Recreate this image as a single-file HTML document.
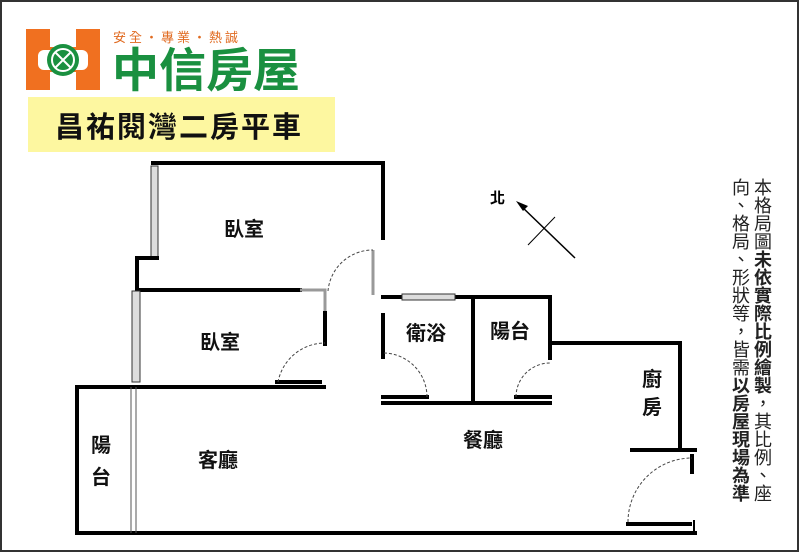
<!DOCTYPE html>
<html><head><meta charset="utf-8"><style>
body{margin:0;background:#fff;}
svg{display:block;font-family:"Liberation Sans","Noto Sans CJK TC",sans-serif;}
.w{stroke:#000;stroke-width:4;fill:none;stroke-linecap:square}
.g{stroke:#999;stroke-width:3;fill:none}
.d{stroke:#444;stroke-width:1;fill:none;stroke-dasharray:3,2}
.win{fill:#ddd;stroke:#333;stroke-width:1}
.t{font-size:20px;font-weight:bold;fill:#111}
</style></head><body>
<svg width="800" height="553" viewBox="0 0 800 553">
<rect x="1" y="1" width="797" height="550" fill="#fff" stroke="#333" stroke-width="2"/>
<!-- logo -->
<rect x="26" y="29" width="74" height="61" fill="#f07020"/>
<rect x="50" y="29" width="26" height="18" fill="#fff"/>
<rect x="50" y="72" width="26" height="18" fill="#fff"/>
<rect x="38" y="50" width="50" height="20" rx="6" fill="#fff"/>
<circle cx="63" cy="60" r="16" fill="#1a9040"/>
<circle cx="63" cy="60" r="11" fill="none" stroke="#fff" stroke-width="2"/>
<path d="M55 52 L71 68 M71 52 L55 68" stroke="#fff" stroke-width="2"/>
<text x="113" y="42" font-size="13" fill="#e06a20" letter-spacing="3">安全・專業・熱誠</text>
<text x="112" y="87" font-size="47" fill="#1a9040" font-weight="bold">中信房屋</text>
<rect x="28" y="97" width="307" height="55" fill="#fdf7a0"/>
<text x="55" y="137" font-size="29" fill="#111" font-weight="bold" letter-spacing="2">昌祐閱灣二房平車</text>
<!-- walls -->
<path class="w" d="M153 163 H383 V238 M383 315 V357"/>
<line class="g" x1="373" y1="250" x2="373" y2="295"/>
<rect class="win" x="151" y="166" width="7" height="92"/>
<path class="w" d="M157 258 H137 V290 H300"/>
<path class="g" d="M300 290 H325 V313"/>
<path class="w" d="M325 313 V344"/>
<rect class="win" x="132" y="291" width="8" height="91"/>
<path class="w" d="M277 382 H320"/>
<path class="d" d="M278 382 A48 48 0 0 1 325 343"/>
<path class="d" d="M328 291 A45 45 0 0 1 373 250"/>
<path class="w" d="M77 387 H324 M77 387 V533 H695"/>
<line x1="131" y1="387" x2="131" y2="533" stroke="#555" stroke-width="1"/>
<line x1="136" y1="387" x2="136" y2="533" stroke="#555" stroke-width="1"/>
<path class="w" d="M383 297 H400 M455 297 H550 V358 M550 343 H680 V450"/>
<rect class="win" x="402" y="294" width="53" height="6"/>
<path class="w" d="M473 297 V403 M383 403 H550"/>
<path class="w" d="M383 397 H427 M516 397 H550"/>
<path class="d" d="M427 397 A44 44 0 0 0 383 353"/>
<path class="d" d="M516 397 A34 34 0 0 1 550 363"/>
<path class="w" d="M632 450 H695 M692 456 V472 M628 524 H690"/>
<path class="d" d="M628 522 A64 64 0 0 1 692 458"/>
<line x1="694" y1="520" x2="694" y2="533" stroke="#000" stroke-width="2"/>
<!-- north -->
<line x1="520" y1="205" x2="575" y2="258" stroke="#000" stroke-width="1.5"/>
<path d="M516 201 L528 206 L523 211 Z" fill="#000"/>
<line x1="528" y1="245" x2="555" y2="217" stroke="#000" stroke-width="1"/>
<text x="490" y="203" font-size="15" font-weight="bold">北</text>
<!-- labels -->
<text class="t" x="224" y="236">臥室</text>
<text class="t" x="200" y="349">臥室</text>
<text class="t" x="406" y="340">衛浴</text>
<text class="t" x="490" y="338">陽台</text>
<text class="t" x="91" y="452">陽</text>
<text class="t" x="91" y="484">台</text>
<text class="t" x="198" y="467">客廳</text>
<text class="t" x="463" y="447">餐廳</text>
<text class="t" x="642" y="386">廚</text>
<text class="t" x="642" y="414">房</text>
<text x="762" y="178" font-size="18" fill="#222" style="writing-mode:vertical-rl">本格局圖<tspan font-weight="bold">未依實際比例繪製</tspan>，其比例、座</text>
<text x="740" y="178" font-size="18" fill="#222" style="writing-mode:vertical-rl">向、格局、形狀等，皆需<tspan font-weight="bold">以房屋現場為準</tspan></text>
</svg>
</body></html>
